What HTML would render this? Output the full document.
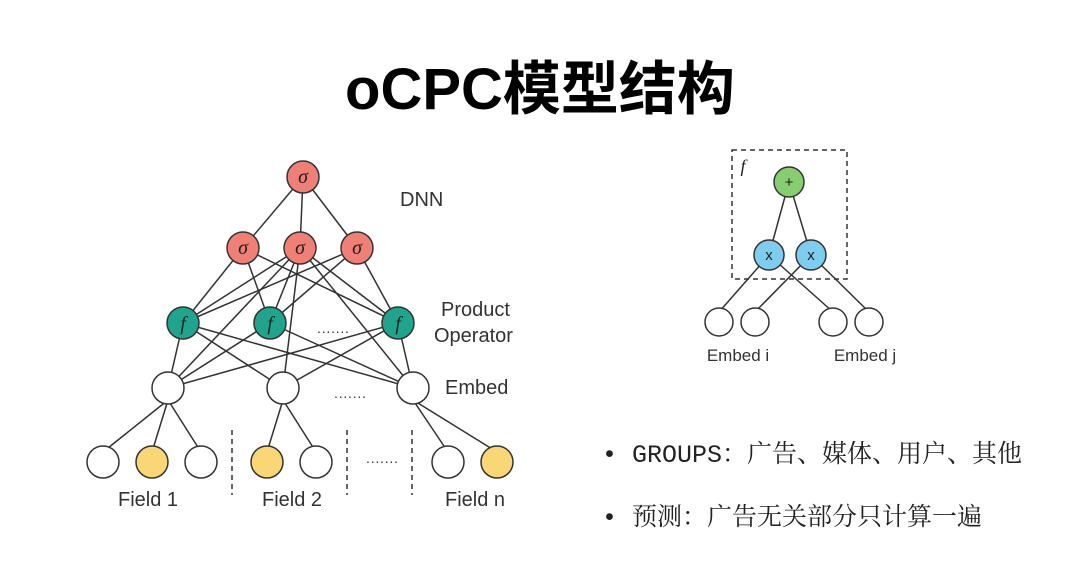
<!DOCTYPE html>
<html><head><meta charset="utf-8"><style>
html,body{margin:0;padding:0;background:#fff;width:1080px;height:575px;overflow:hidden}
.t{position:absolute;left:0;width:1080px;top:42px;text-align:center;font:bold 58px "Liberation Sans","Noto Sans CJK SC",sans-serif;color:#000}
.b{position:absolute;left:602px;font-size:25px;font-family:"Liberation Mono","Noto Serif CJK SC",serif;color:#222;white-space:nowrap}
</style></head><body>
<div class="t">oCPC模型结构</div>
<svg width="1080" height="575" style="position:absolute;left:0;top:0" font-family="Liberation Sans,sans-serif">
<g stroke="#333" stroke-width="1.5" fill="none">
<!-- top to layer2 -->
<line x1="303" y1="177" x2="243" y2="248"/><line x1="303" y1="177" x2="300" y2="248"/><line x1="303" y1="177" x2="357" y2="248"/>
<!-- layer2 to f -->
<line x1="243" y1="248" x2="183" y2="323"/><line x1="243" y1="248" x2="270" y2="323"/><line x1="243" y1="248" x2="398" y2="323"/>
<line x1="300" y1="248" x2="183" y2="323"/><line x1="300" y1="248" x2="270" y2="323"/><line x1="300" y1="248" x2="398" y2="323"/>
<line x1="357" y1="248" x2="183" y2="323"/><line x1="357" y1="248" x2="270" y2="323"/><line x1="357" y1="248" x2="398" y2="323"/>
<line x1="300" y1="248" x2="283" y2="388"/><line x1="300" y1="248" x2="168" y2="388"/><line x1="300" y1="248" x2="413" y2="388"/>
<!-- f to embed -->
<line x1="183" y1="323" x2="168" y2="388"/><line x1="183" y1="323" x2="413" y2="388"/>
<line x1="270" y1="323" x2="168" y2="388"/><line x1="270" y1="323" x2="413" y2="388"/>
<line x1="398" y1="323" x2="168" y2="388"/><line x1="398" y1="323" x2="413" y2="388"/><line x1="398" y1="323" x2="283" y2="388"/><line x1="183" y1="323" x2="283" y2="388"/>
<!-- embed to fields -->
<line x1="168" y1="400" x2="103" y2="452"/><line x1="168" y1="400" x2="152" y2="452"/><line x1="168" y1="400" x2="201" y2="452"/>
<line x1="283" y1="400" x2="267" y2="452"/><line x1="283" y1="400" x2="316" y2="452"/>
<line x1="413" y1="400" x2="448" y2="452"/><line x1="413" y1="400" x2="497" y2="452"/>
<!-- right -->
<line x1="789" y1="182" x2="769" y2="255"/><line x1="789" y1="182" x2="811" y2="255"/>
<line x1="769" y1="255" x2="719" y2="312"/><line x1="769" y1="255" x2="833" y2="312"/>
<line x1="811" y1="255" x2="755" y2="312"/><line x1="811" y1="255" x2="869" y2="312"/>
</g>
<g stroke="#333" stroke-width="1.5" stroke-dasharray="5,4" fill="none">
<line x1="232" y1="430" x2="232" y2="495"/><line x1="347" y1="430" x2="347" y2="495"/><line x1="412" y1="430" x2="412" y2="495"/>
<rect x="732" y="150" width="115" height="129"/>
</g>
<g stroke="#333" stroke-width="1.5">
<circle cx="303" cy="177" r="16" fill="#f07f76"/>
<circle cx="243" cy="248" r="16" fill="#f07f76"/><circle cx="300" cy="248" r="16" fill="#f07f76"/><circle cx="357" cy="248" r="16" fill="#f07f76"/>
<circle cx="183" cy="323" r="16" fill="#1fa48e"/><circle cx="270" cy="323" r="16" fill="#1fa48e"/><circle cx="398" cy="323" r="16" fill="#1fa48e"/>
<circle cx="168" cy="388" r="16" fill="#fff"/><circle cx="283" cy="388" r="16" fill="#fff"/><circle cx="413" cy="388" r="16" fill="#fff"/>
<circle cx="103" cy="462" r="16" fill="#fff"/><circle cx="152" cy="462" r="16" fill="#f9d774"/><circle cx="201" cy="462" r="16" fill="#fff"/>
<circle cx="267" cy="462" r="16" fill="#f9d774"/><circle cx="316" cy="462" r="16" fill="#fff"/>
<circle cx="448" cy="462" r="16" fill="#fff"/><circle cx="497" cy="462" r="16" fill="#f9d774"/>
<circle cx="789" cy="182" r="15" fill="#86cf6e"/>
<circle cx="769" cy="255" r="15" fill="#7dcdef"/><circle cx="811" cy="255" r="15" fill="#7dcdef"/>
<circle cx="719" cy="322" r="14" fill="#fff"/><circle cx="755" cy="322" r="14" fill="#fff"/><circle cx="833" cy="322" r="14" fill="#fff"/><circle cx="869" cy="322" r="14" fill="#fff"/>
</g>
<g font-family="Liberation Serif,serif" font-style="italic" font-size="20" fill="#222" text-anchor="middle">
<text x="303" y="183">σ</text><text x="243" y="254">σ</text><text x="300" y="254">σ</text><text x="357" y="254">σ</text>
<text x="183" y="330">f</text><text x="270" y="330">f</text><text x="398" y="330">f</text>
<text x="743" y="172" font-size="18">f</text>
</g>
<g font-size="15" fill="#222" text-anchor="middle">
<text x="789" y="187">+</text><text x="769" y="260">x</text><text x="811" y="260">x</text>
</g>
<g font-size="20" fill="#333">
<text x="400" y="206">DNN</text>
<text x="441" y="316">Product</text><text x="434" y="342">Operator</text>
<text x="445" y="394">Embed</text>
<text x="148" y="506" text-anchor="middle">Field 1</text>
<text x="292" y="506" text-anchor="middle">Field 2</text>
<text x="475" y="506" text-anchor="middle">Field n</text>
<text x="738" y="361" text-anchor="middle" font-size="17">Embed i</text>
<text x="865" y="361" text-anchor="middle" font-size="17">Embed j</text>
<text x="333" y="336" text-anchor="middle" font-size="14">·······</text>
<text x="350" y="401" text-anchor="middle" font-size="14">·······</text>
<text x="382" y="466" text-anchor="middle" font-size="14">·······</text>
</g>
</svg>
<div class="b" style="top:434px">• GROUPS：广告、媒体、用户、其他</div>
<div class="b" style="top:497px">• 预测：广告无关部分只计算一遍</div>
</body></html>
